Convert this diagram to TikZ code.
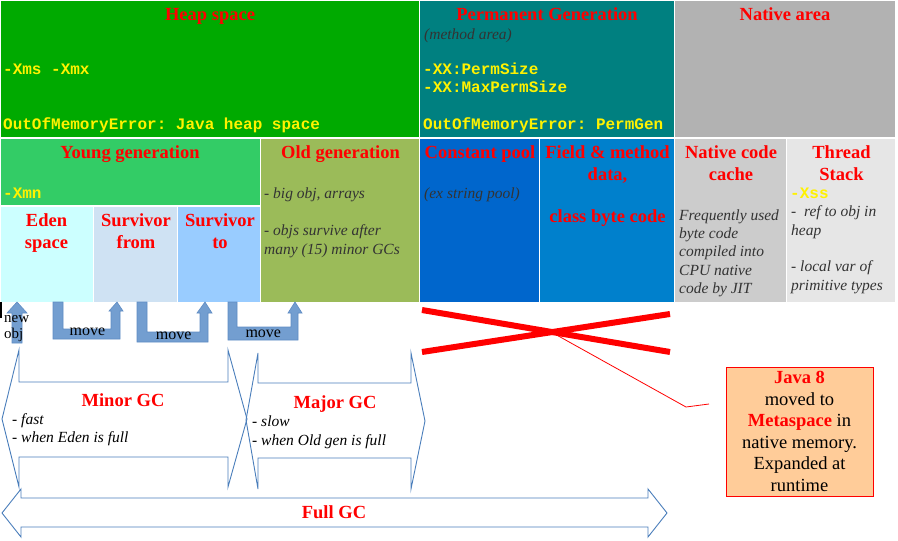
\documentclass[tikz,border=0pt]{standalone}
\usepackage{fontspec}
\setmainfont{Liberation Serif}
\setmonofont{Liberation Mono}
\usetikzlibrary{positioning,shapes}
\definecolor{heapgreen}{RGB}{0,170,0}
\definecolor{permteal}{RGB}{0,128,128}
\definecolor{nativegray}{RGB}{178,178,178}
\definecolor{younggreen}{RGB}{51,204,102}
\definecolor{oldgreen}{RGB}{155,187,89}
\definecolor{edencyan}{RGB}{204,255,255}
\definecolor{fromblue}{RGB}{207,226,243}
\definecolor{toblue}{RGB}{153,204,255}
\definecolor{constblue}{RGB}{0,102,204}
\definecolor{fieldblue}{RGB}{0,128,204}
\definecolor{nccgray}{RGB}{204,204,204}
\definecolor{threadgray}{RGB}{230,230,230}
\definecolor{notegray}{RGB}{51,51,51}
\definecolor{gcblue}{RGB}{74,126,187}
\definecolor{moveblue}{RGB}{115,158,208}
\definecolor{moveedge}{RGB}{95,140,196}
\definecolor{calloutfill}{RGB}{255,204,153}
\tikzstyle{region}=[draw=white, line width=1.2pt, rectangle, inner sep=0pt, outer sep=0pt, anchor=north west]
\tikzstyle{title}=[text=red, font={\fontsize{18.5}{21.5}\selectfont\bfseries}, inner sep=0pt, align=center, anchor=base]
\tikzstyle{flag}=[text=yellow, font={\fontsize{16}{18}\selectfont\ttfamily\bfseries}, inner sep=0pt, align=left, anchor=base west]
\tikzstyle{note}=[text=notegray, font={\fontsize{15.5}{18.3}\selectfont\itshape}, inner sep=0pt, align=left, anchor=base west]
\tikzstyle{gcnote}=[note, text=black]
\tikzstyle{gcarrow}=[draw=gcblue, line width=0.9pt, line join=miter]
\tikzstyle{movearrow}=[fill=moveblue, draw=moveedge, line width=0.6pt]
\tikzstyle{plain}=[font={\fontsize{16}{16}\selectfont}, inner sep=0pt, anchor=base]
\tikzstyle{cross}=[draw=red, line width=6pt]
\begin{document}
\begin{tikzpicture}[x=1pt, y=-1pt]
\useasboundingbox (0,0) rectangle (898,541);
\fill[white] (0,0) rectangle (898,541);
\node[region, fill=heapgreen, minimum width=419.5pt, minimum height=138pt] (heap) at (0,0) {};
\node[region, fill=permteal, minimum width=255pt, minimum height=138pt] (perm) at (419.5,0) {};
\node[region, fill=nativegray, minimum width=221.5pt, minimum height=138pt] (native) at (674.5,0) {};
\node[region, fill=younggreen, minimum width=260.5pt, minimum height=68pt] (young) at (0,138) {};
\node[region, fill=edencyan, minimum width=93.5pt, minimum height=96.5pt] (eden) at (0,206) {};
\node[region, fill=fromblue, minimum width=84pt, minimum height=96.5pt] (survfrom) at (93.5,206) {};
\node[region, fill=toblue, minimum width=83pt, minimum height=96.5pt] (survto) at (177.5,206) {};
\node[region, fill=oldgreen, minimum width=159pt, minimum height=164.5pt] (old) at (260.5,138) {};
\node[region, fill=constblue, minimum width=120pt, minimum height=164.5pt] (const) at (419.5,138) {};
\node[region, fill=fieldblue, minimum width=135pt, minimum height=164.5pt] (field) at (539.5,138) {};
\node[region, fill=nccgray, minimum width=112pt, minimum height=164.5pt] (ncc) at (674.5,138) {};
\node[region, fill=threadgray, minimum width=109.5pt, minimum height=164.5pt] (thread) at (786.5,138) {};
\node[title] (heapT) at (210,20.5) {Heap space};
\node[flag] (xms) at (3,74.5) {-Xms -Xmx};
\node[flag] (heapoom) at (3,129) {OutOfMemoryError: Java heap space};
\node[title] (permT) at (547,20.5) {Permanent Generation};
\node[note] (methodarea) at (424,39.5) {(method area)};
\node[flag] (permsize) at (423,92.5) {-XX:PermSize\\-XX:MaxPermSize};
\node[flag] (permoom) at (423,129) {OutOfMemoryError: PermGen};
\node[title] (nativeT) at (785,20.5) {Native area};
\node[title] (youngT) at (130,158.5) {Young generation};
\node[flag] (xmn) at (3,198) {-Xmn};
\node[title] (edenT) at (46.5,248) {Eden\\space};
\node[title] (fromT) at (136,248) {Survivor\\from};
\node[title] (toT) at (220,248) {Survivor\\to};
\node[title] (oldT) at (340.5,158.5) {Old generation};
\node[note] (bigobj) at (264,198) {- big obj, arrays};
\node[note] (survive) at (264,254) {- objs survive after\\many (15) minor GCs};
\node[title] (constT) at (480,158.5) {Constant pool};
\node[note] (exstring) at (424,198) {(ex string pool)};
\node[title] (fieldT) at (607.5,180) {Field \& method\\data,};
\node[title] (bytecode) at (607.5,222) {class byte code};
\node[title] (nccT) at (731,180) {Native code\\cache};
\node[note] (jit) at (679,293.3) {Frequently used\\byte code\\compiled into\\CPU native\\code by JIT};
\node[title] (threadT) at (841.5,180) {Thread\\Stack};
\node[flag] (xss) at (790,198) {-Xss};
\node[note] (refobj) at (791,235) {-~ ref to obj in\\heap};
\node[note] (localvar) at (791,290) {- local var of\\primitive types};
\fill[black] (0,302) rectangle (1.5,318);
\path[movearrow] (12,343) -- (12,313) -- (7,313) -- (17,302) -- (27,313) -- (22,313) -- (22,343) -- cycle;
\path[movearrow] (53,302) -- (63,302) -- (63,329) -- (111,329) -- (111,311) -- (109,311) -- (117,302) -- (123,311) -- (120,311) -- (120,339) -- (53,339) -- cycle;
\path[movearrow] (137,302) -- (147,302) -- (147,332) -- (200,332) -- (200,313) -- (197,313) -- (205,302) -- (212,313) -- (208,313) -- (208,342) -- (137,342) -- cycle;
\path[movearrow] (228,302) -- (237,302) -- (237,327) -- (291,327) -- (291,313) -- (288,313) -- (295,302) -- (302,313) -- (298,313) -- (298,340) -- (228,340) -- cycle;
\node[plain, font={\fontsize{15}{16}\selectfont}, align=left, anchor=base west] (newobj) at (4,338) {new\\obj};
\node[plain] (move1) at (87.5,335) {move};
\node[plain] (move2) at (173.7,339) {move};
\node[plain] (move3) at (263.3,337.7) {move};
\draw[gcarrow] (2,419) -- (19,350) -- (19,382) -- (228,382) -- (228,350) -- (247,419) -- (228,487) -- (228,457) -- (19,457) -- (19,487) -- cycle;
\draw[gcarrow] (246,420) -- (258,353) -- (258,383) -- (411,383) -- (411,353) -- (425,421) -- (411,489) -- (411,458) -- (258,458) -- (258,489) -- cycle;
\draw[gcarrow] (2,513) -- (21,489) -- (21,498) -- (648,498) -- (648,489) -- (667,513) -- (648,537) -- (648,527) -- (21,527) -- (21,537) -- cycle;
\node[title] (minorT) at (123,406.5) {Minor GC};
\node[gcnote] (minornote) at (12,442.7) {- fast\\- when Eden is full};
\node[title] (majorT) at (335,408) {Major GC};
\node[gcnote] (majornote) at (252,445) {- slow\\- when Old gen is full};
\node[title] (fullT) at (334,518) {Full GC};
\draw[cross] (422,310) -- (670,352);
\draw[cross] (422,352) -- (670,314);
\coordinate (xcenter) at (553,333);
\coordinate (bend) at (686,407);
\coordinate (callend) at (709,404);
\node[draw=red, line width=1pt, fill=calloutfill, minimum width=147pt, minimum height=129pt, inner sep=0pt, align=center, font={\fontsize{18.5}{21.6}\selectfont}] (java) at (799.5,431.5) {\textcolor{red}{\textbf{Java 8}}\\moved to\\\textcolor{red}{\textbf{Metaspace}} in\\native memory.\\Expanded at\\runtime};
\draw[red, line width=0.8pt] (xcenter) -- (bend) -- (callend);
\end{tikzpicture}
\end{document}
